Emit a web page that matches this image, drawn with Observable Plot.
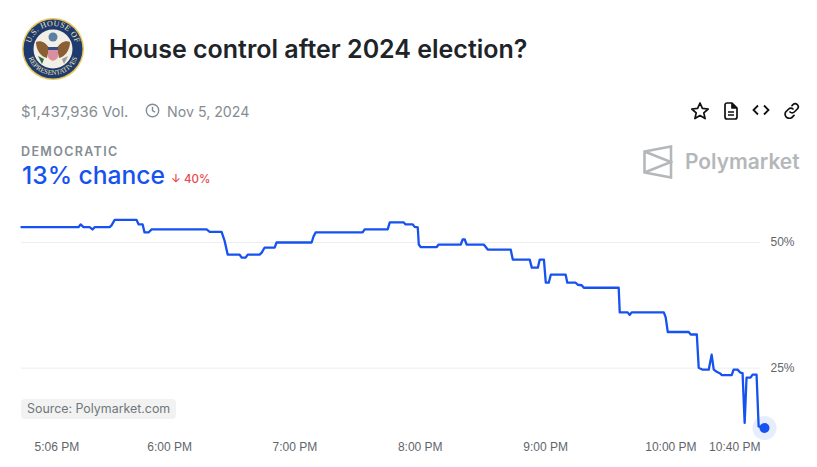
<!DOCTYPE html>
<html>
<head>
<meta charset="utf-8">
<script src="https://cdn.jsdelivr.net/npm/d3@7"></script>
<script src="https://cdn.jsdelivr.net/npm/@observablehq/plot@0.6"></script>
<style>
  html, body { margin: 0; padding: 0; background: #fff; overflow: hidden; }
  #page { position: relative; width: 817px; height: 467px; font-family: Inter, sans-serif; }
  #page > * { position: absolute; white-space: nowrap; }
  #chart { left: 0; top: 190px; }
  #seal { left: 21px; top: 18px; }
  #title { left: 109px; top: 34px; font-size: 25px; line-height: 30px; font-weight: 600; color: #1e2428; }
  .meta { top: 102px; line-height: 20px; color: #858d92; }
  #label { left: 21px; top: 144px; font-size: 12.5px; line-height: 16px; font-weight: 600; letter-spacing: 1.35px; color: #858d92; }
  #chance { left: 22px; top: 159px; font-size: 24.6px; line-height: 32px; font-weight: 500; color: #1652f0; }
  #delta { left: 171px; top: 171px; font-size: 11.5px; line-height: 16px; font-weight: 500; color: #e5484d; }
  #source { left: 21px; top: 399px; padding: 0 6px; height: 20px; line-height: 20px; font-size: 12.4px; color: #6f777c; background: #f2f2f2; border-radius: 4px; }
  #brand { left: 685px; top: 148px; font-size: 20.9px; line-height: 28px; font-weight: 600; color: #b4b8ba; }
</style>
</head>
<body>
<div id="page">
  <svg id="seal" width="64" height="64" viewBox="0 0 64 64">
    <circle cx="32" cy="31" r="31" fill="#e8c65a"/>
    <circle cx="32" cy="31" r="29.5" fill="#1f3a6e"/>
    <circle cx="32" cy="31" r="19.5" fill="#f1efe6"/>
    <defs>
      <path id="topArc" d="M9 31a23 23 0 0 1 46 0"/>
      <path id="botArc" d="M6 31a26 26 0 0 0 52 0"/>
    </defs>
    <text font-family="Liberation Serif" font-size="8" fill="#f4e8b0" letter-spacing=".4"><textPath href="#topArc" startOffset="50%" text-anchor="middle">U.S. HOUSE OF</textPath></text>
    <text font-family="Liberation Serif" font-size="7" fill="#f4e8b0"><textPath href="#botArc" startOffset="50%" text-anchor="middle">REPRESENTATIVES</textPath></text>
    <path d="M15 24c5-2 10 1 13 6l-2 10c-6-1-11-8-11-16zM49 24c-5-2-10 1-13 6l2 10c6-1 11-8 11-16z" fill="#8a5f34"/>
    <circle cx="32" cy="19" r="4.5" fill="#5d7fa3"/>
    <path d="M27 29h10v9c0 3-3 4-5 5-2-1-5-2-5-5z" fill="#d98f9f"/>
    <path d="M27 29h10v3H27z" fill="#34508a"/>
    <path d="M17 38l6 3-2 5z" fill="#2f6b3c"/>
    <path d="M47 38l-6 3 2 5z" fill="#9a9a90"/>
  </svg>
  <div id="title">House control after 2024 election?</div>
  <div class="meta" style="left:21px;font-size:14.85px">$1,437,936 Vol.</div>
  <svg style="left:145px;top:103px" width="15" height="15" viewBox="0 0 15 15" fill="none" stroke="#858d92" stroke-width="1.4"><circle cx="7.5" cy="7.5" r="6.2"/><path d="M7.5 3.8v3.9l2.6 1.5"/></svg>
  <div class="meta" style="left:167px;font-size:14.2px">Nov 5, 2024</div>
  <svg style="left:690px;top:101px" width="20" height="20" viewBox="0 0 20 20" fill="none" stroke="#111" stroke-width="1.7" stroke-linejoin="round"><path d="M10 2l2.4 5.4 5.8.6-4.4 3.9 1.3 5.7-5.1-3-5.100 3 1.300-5.700L1.800 8l5.800-.6z"/></svg>
  <svg style="left:723px;top:102px" width="16" height="18" viewBox="0 0 16 18" fill="none" stroke="#111" stroke-width="1.7" stroke-linejoin="round"><path d="M2 3a2 2 0 0 1 2-2h5l5 5v9a2 2 0 0 1-2 2H4a2 2 0 0 1-2-2z"/><path d="M9 1v5h5" fill="#111"/><path d="M5 10h6M5 13h6"/></svg>
  <svg style="left:752px;top:104px" width="18" height="12" viewBox="0 0 18 12" fill="none" stroke="#111" stroke-width="1.800"><path d="M6 1.500L1.500 6 6 10.500M12 1.500L16.500 6 12 10.500"/></svg>
  <svg style="left:783px;top:102px" width="17" height="17" viewBox="0 0 17 17" fill="none" stroke="#111" stroke-width="1.700" stroke-linecap="round"><path d="M7 10a3 3 0 0 0 4.300 0l3-3a3 3 0 0 0-4.300-4.300l-1 1"/><path d="M10 7a3 3 0 0 0-4.300 0l-3 3A3 3 0 0 0 10 14.300l1-1"/></svg>
  <div id="label">DEMOCRATIC</div>
  <div id="chance">13% chance</div>
  <div id="delta">↓ 40%</div>
  <svg style="left:643px;top:145px" width="30" height="34" viewBox="0 0 30 34" fill="none" stroke="#b4b8ba" stroke-width="2.600"><path d="M1.500 6.500L28 1.500v31L1.500 27.500zM1.500 6.500L28 17 1.500 27.500"/></svg>
  <div id="brand">Polymarket</div>
  <div id="chart"></div>
  <div id="source">Source: Polymarket.com</div>
</div>
<script>
// minutos desde las 17:00 (hora del eje)
const minutes = [-10.9, 16.4, 17.4, 18.8, 21.7, 23.1, 24.1, 31.3, 32.2, 33.7, 44.2, 45.2, 47.1, 48.0, 49.9, 51.4,
  77.7, 79.2, 84.9, 86.3, 87.8, 93.5, 94.5, 96.4, 97.4, 103.1, 104.1, 105.5, 110.3, 111.2, 128.0, 128.9, 129.9,
  152.4, 153.4, 164.4, 165.4, 172.1, 173.0, 176.4, 177.3, 178.8, 179.3, 180.2, 187.9, 188.8, 199.4, 200.3, 201.3, 202.2,
  210.4, 212.3, 223.3, 224.3, 232.4, 233.4, 236.3, 237.2, 239.2, 240.1, 241.5, 242.5, 249.6, 250.4, 254.4, 255.4, 257.3, 258.3,
  275.0, 275.5, 279.3, 280.3, 281.2, 296.6, 297.5, 298.5, 308.5, 309.5, 312.4, 313.3, 315.2, 318.1, 319.5, 320.5, 321.9,
  323.8, 324.3, 329.1, 330.0, 331.9, 333.3, 334.3, 335.3, 336.2, 338.1, 339.1, 341.0, 342.0, 344.8];
const chance = [53.05, 53.05, 53.6, 53.05, 53.05, 52.6, 53.05, 53.05, 53.4, 54.5, 54.5, 53.6, 53.6, 52.0, 52.0, 52.6,
  52.6, 52.1, 52.1, 50.4, 47.6, 47.6, 47.0, 47.0, 47.6, 47.6, 48.0, 49.0, 49.0, 50.0, 50.0, 51.2, 52.0,
  52.0, 52.6, 52.6, 54.0, 54.0, 53.6, 53.6, 53.1, 53.0, 49.6, 49.1, 49.1, 49.6, 49.6, 50.6, 50.6, 49.6,
  49.6, 48.6, 48.6, 46.6, 46.6, 45.0, 45.0, 46.6, 46.6, 42.0, 42.0, 43.6, 43.6, 42.0, 42.0, 41.6, 41.5, 41.0,
  41.0, 36.1, 36.1, 35.6, 36.1, 36.1, 35.1, 32.2, 32.2, 31.7, 31.7, 25.1, 24.7, 24.7, 27.7, 24.7, 24.3,
  23.9, 23.6, 23.6, 24.7, 24.7, 24.1, 24.0, 14.1, 23.1, 23.1, 23.7, 23.7, 13.4, 13.1];
const tickMinutes = [6, 60, 120, 180, 240, 300];
const tickLabels = ["5:06 PM", "6:00 PM", "7:00 PM", "8:00 PM", "9:00 PM", "10:00 PM"];
const lastTickMinute = 340;
const lastTickLabel = "10:40 PM";
const gridValues = [50, 25];

const toDate = m => new Date(2024, 10, 5, 17, 0, m * 60);
const data = minutes.map((m, i) => ({ time: toDate(m), value: chance[i] }));
const last = data[data.length - 1];
const blue = "#1652f0";
const formatTick = d => tickLabels[tickMinutes.findIndex(m => +toDate(m) === +d)];

const chart = Plot.plot({
  width: 817,
  height: 277,
  marginLeft: 21,
  marginRight: 53,
  marginTop: 20,
  marginBottom: 35,
  style: { fontFamily: "'Liberation Sans', sans-serif", fontSize: "12px", color: "#5f666b", background: "transparent", overflow: "visible" },
  x: { type: "time", domain: [data[0].time, last.time] },
  y: { domain: [12.2, 56.37] },
  marks: [
    Plot.ruleY(gridValues, { x1: data[0].time, x2: toDate(343), stroke: "#eeeeee", strokeWidth: 1 }),
    Plot.axisY(gridValues, { anchor: "right", tickSize: 0, tickPadding: 6, label: null, tickFormat: d => d + "%" }),
    Plot.axisX(tickMinutes.map(toDate), { tickSize: 0, tickPadding: 10, label: null, tickFormat: formatTick }),
    Plot.axisX([toDate(lastTickMinute)], { tickSize: 0, tickPadding: 10, label: null, tickFormat: () => lastTickLabel, textAnchor: "end", dx: 6 }),
    Plot.line(data, { x: "time", y: "value", stroke: blue, strokeWidth: 2.3, strokeLinejoin: "round" }),
    Plot.dot([last], { x: "time", y: "value", r: 12, fill: blue, fillOpacity: 0.1 }),
    Plot.dot([last], { x: "time", y: "value", r: 5, fill: blue })
  ]
});

d3.select("#chart").append(() => chart);
</script>
</body>
</html>
